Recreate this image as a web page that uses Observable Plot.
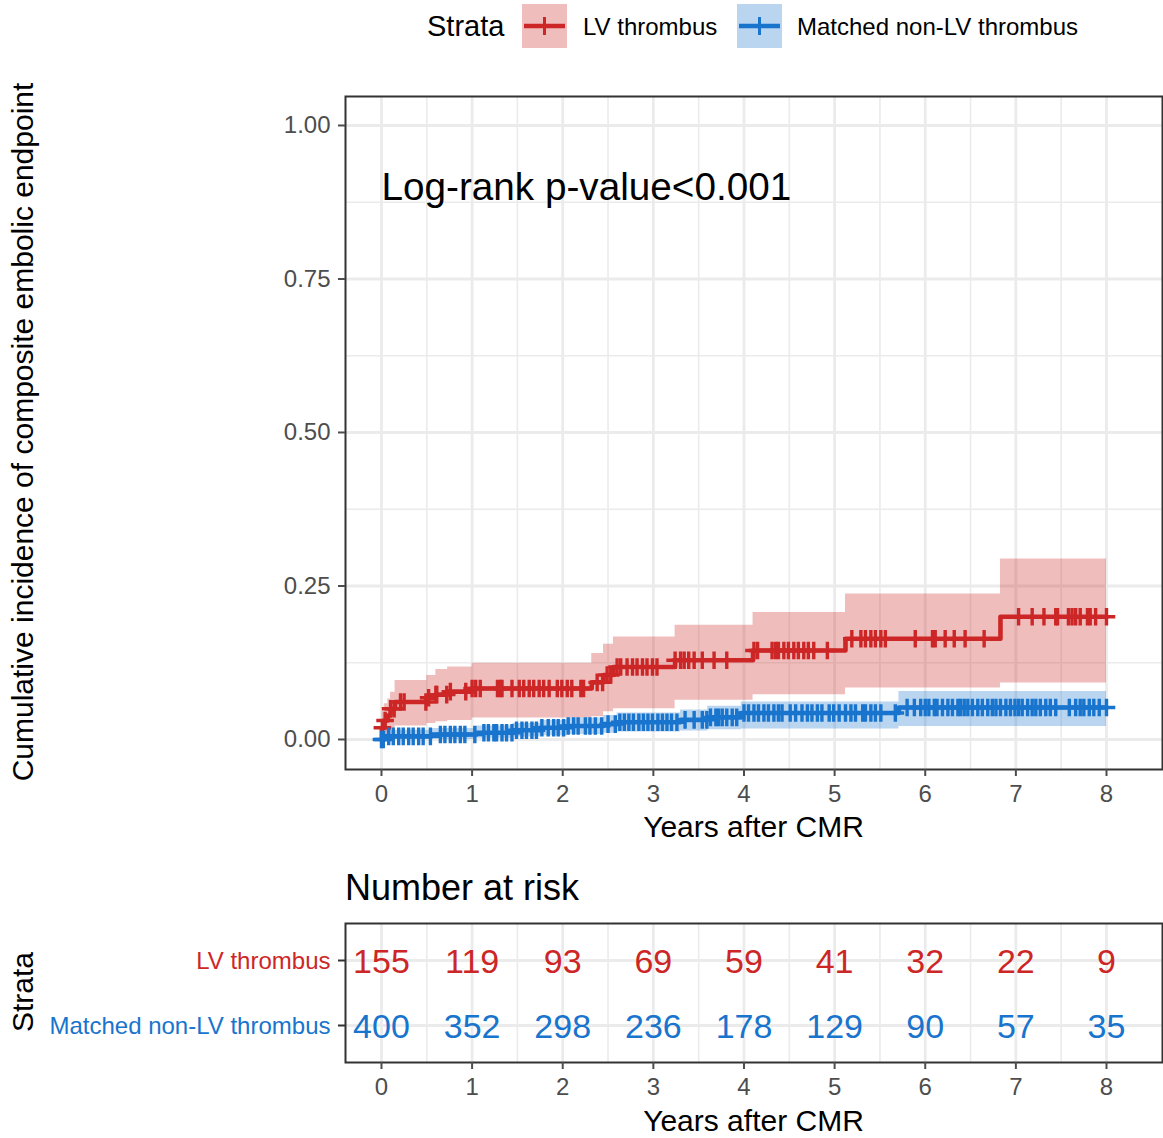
<!DOCTYPE html>
<html>
<head>
<meta charset="utf-8">
<script src="https://cdn.jsdelivr.net/npm/d3@7"></script>
<script src="https://cdn.jsdelivr.net/npm/@observablehq/plot@0.6"></script>
<style>
  html, body { margin: 0; padding: 0; background: #fff; overflow: hidden; }
  #wrap { position: relative; width: 1163px; height: 1138px; font-family: "Liberation Sans", Arial, Helvetica, sans-serif; }
  #main, #risk, #overlay { position: absolute; left: 0; }
  #main { top: 0; }
  #risk { top: 860px; }
  #overlay { top: 0; pointer-events: none; }
</style>
</head>
<body>
<div id="wrap">
  <div id="main"></div>
  <div id="risk"></div>
  <svg id="overlay" width="1163" height="1138"></svg>
</div>
<script>
// ---------------- DATA ----------------
const strata = ["LV thrombus", "Matched non-LV thrombus"];
const strataColors = ["#CD2626", "#1874CD"];
const followUpEnd = 8.0;

// LV thrombus: cumulative incidence step function
const redT   = [0, 0.005, 0.03, 0.07, 0.10, 0.15, 0.50, 0.60, 0.73, 1.00, 2.32, 2.45, 2.56, 3.24, 4.10, 5.12, 6.83];
const redEst = [0, 0.019, 0.031, 0.039, 0.050, 0.061, 0.068, 0.073, 0.078, 0.083, 0.093, 0.105, 0.118, 0.129, 0.145, 0.164, 0.200];
const redLo  = [0, 0.004, 0.008, 0.012, 0.018, 0.022, 0.026, 0.029, 0.031, 0.035, 0.037, 0.045, 0.050, 0.064, 0.073, 0.084, 0.092];
const redHi  = [0, 0.045, 0.058, 0.066, 0.077, 0.096, 0.104, 0.114, 0.118, 0.124, 0.140, 0.155, 0.167, 0.186, 0.207, 0.237, 0.294];
const redCensor = [0.01, 0.04, 0.10, 0.14, 0.21, 0.25, 0.49, 0.52, 0.60, 0.61, 0.72, 0.76, 0.93, 1.00, 1.04, 1.09,
  1.28, 1.31, 1.33, 1.44, 1.52, 1.57, 1.63, 1.68, 1.74, 1.79, 1.85, 1.94, 1.99, 2.05, 2.10, 2.20, 2.23, 2.38, 2.44,
  2.49, 2.53, 2.60, 2.64, 2.71, 2.77, 2.82, 2.88, 2.93, 2.99, 3.04, 3.24, 3.30, 3.34, 3.39, 3.45, 3.54, 3.67, 3.81,
  4.11, 4.15, 4.31, 4.35, 4.38, 4.44, 4.49, 4.55, 4.60, 4.66, 4.71, 4.77, 4.92, 5.19, 5.29, 5.34, 5.40, 5.45, 5.51,
  5.56, 5.89, 6.08, 6.11, 6.22, 6.32, 6.44, 6.65, 7.03, 7.18, 7.31, 7.44, 7.46, 7.58, 7.62, 7.66, 7.71, 7.79, 7.82,
  7.88, 8.00];

// Matched non-LV thrombus
const blueT   = [0, 0.03, 0.55, 1.05, 1.45, 1.75, 2.05, 2.45, 2.60, 3.30, 3.60, 3.97, 5.71];
const blueEst = [0, 0.005, 0.008, 0.011, 0.015, 0.019, 0.022, 0.025, 0.028, 0.032, 0.036, 0.043, 0.052];
const blueLo  = [0, 0, 0, 0.002, 0.004, 0.006, 0.008, 0.010, 0.012, 0.014, 0.016, 0.017, 0.021];
const blueHi  = [0, 0.015, 0.018, 0.022, 0.026, 0.031, 0.035, 0.039, 0.043, 0.048, 0.054, 0.061, 0.078];
const blueCensor = [0.00, 0.02, 0.08, 0.13, 0.19, 0.24, 0.30, 0.35, 0.41, 0.46, 0.54, 0.65, 0.70, 0.76, 0.81, 0.87,
  0.92, 1.03, 1.13, 1.18, 1.24, 1.27, 1.33, 1.38, 1.44, 1.49, 1.55, 1.60, 1.66, 1.71, 1.77, 1.84, 1.90, 1.95, 2.01,
  2.06, 2.12, 2.17, 2.25, 2.30, 2.36, 2.43, 2.50, 2.58, 2.63, 2.68, 2.73, 2.78, 2.84, 2.89, 2.94, 2.99, 3.05, 3.10,
  3.15, 3.20, 3.26, 3.35, 3.45, 3.54, 3.59, 3.63, 3.69, 3.72, 3.76, 3.81, 3.87, 3.92, 4.00, 4.05, 4.11, 4.16, 4.22,
  4.27, 4.33, 4.38, 4.42, 4.51, 4.57, 4.64, 4.70, 4.75, 4.81, 4.86, 4.94, 4.99, 5.05, 5.12, 5.18, 5.23, 5.31, 5.34,
  5.40, 5.45, 5.51, 5.67, 5.80, 5.88, 5.95, 6.00, 6.04, 6.10, 6.13, 6.19, 6.25, 6.30, 6.36, 6.39, 6.43, 6.47, 6.52,
  6.58, 6.63, 6.69, 6.74, 6.78, 6.83, 6.89, 6.94, 6.99, 7.03, 7.07, 7.13, 7.18, 7.22, 7.27, 7.33, 7.38, 7.44, 7.59,
  7.66, 7.71, 7.75, 7.81, 7.86, 7.92, 8.00];

// Number at risk
const riskTimes = [0, 1, 2, 3, 4, 5, 6, 7, 8];
const lvRisk    = [155, 119, 93, 69, 59, 41, 32, 22, 9];
const nonLvRisk = [400, 352, 298, 236, 178, 129, 90, 57, 35];

const xTicks = [0, 1, 2, 3, 4, 5, 6, 7, 8];
const xMinor = [0.5, 1.5, 2.5, 3.5, 4.5, 5.5, 6.5, 7.5];
const yTicks = [0, 0.25, 0.5, 0.75, 1.0];
const yMinor = [0.125, 0.375, 0.625, 0.875];

// ---------------- BUILD ----------------
const FONT = '"Liberation Sans", Arial, Helvetica, sans-serif';
const xDomain = [-0.397, 8.618];

function curve(T, E, L, H, name) {
  const pts = T.map((t, i) => ({t, est: E[i], lo: L[i], hi: H[i], strata: name}));
  const last = pts[pts.length - 1];
  pts.push({...last, t: followUpEnd});
  return pts;
}
function stepAt(T, V, t) {
  let v = V[0];
  for (let i = 0; i < T.length; i++) if (T[i] <= t) v = V[i];
  return v;
}
const redCurve = curve(redT, redEst, redLo, redHi, strata[0]);
const blueCurve = curve(blueT, blueEst, blueLo, blueHi, strata[1]);
const redCens = redCensor.map(t => ({t, est: stepAt(redT, redEst, t)}));
const blueCens = blueCensor.map(t => ({t, est: stepAt(blueT, blueEst, t)}));

const plusSym = {
  draw(ctx, size) {
    const r = Math.sqrt(size / Math.PI);
    ctx.moveTo(-r, 0); ctx.lineTo(r, 0);
    ctx.moveTo(0, -r); ctx.lineTo(0, r);
  }
};

const gridCol = "#EBEBEB";
const mainPlot = Plot.plot({
  width: 1163, height: 860,
  marginTop: 96, marginBottom: 91, marginLeft: 345, marginRight: 1,
  style: {fontFamily: FONT, background: "transparent", overflow: "visible"},
  x: {domain: xDomain},
  y: {domain: [-0.0489, 1.0472]},
  marks: [
    Plot.gridX(xMinor, {stroke: gridCol, strokeOpacity: 1, strokeWidth: 1.6}),
    Plot.gridY(yMinor, {stroke: gridCol, strokeOpacity: 1, strokeWidth: 1.6}),
    Plot.gridX(xTicks, {stroke: gridCol, strokeOpacity: 1, strokeWidth: 2.8}),
    Plot.gridY(yTicks, {stroke: gridCol, strokeOpacity: 1, strokeWidth: 2.8}),
    Plot.areaY(redCurve, {x: "t", y1: "lo", y2: "hi", curve: "step-after", fill: strataColors[0], fillOpacity: 0.3}),
    Plot.areaY(blueCurve, {x: "t", y1: "lo", y2: "hi", curve: "step-after", fill: strataColors[1], fillOpacity: 0.3}),
    Plot.line(redCurve, {x: "t", y: "est", curve: "step-after", stroke: strataColors[0], strokeWidth: 4.6}),
    Plot.line(blueCurve, {x: "t", y: "est", curve: "step-after", stroke: strataColors[1], strokeWidth: 4.6}),
    Plot.dot(redCens, {x: "t", y: "est", symbol: plusSym, r: 8.8, stroke: strataColors[0], fill: "none", strokeWidth: 3.4}),
    Plot.dot(blueCens, {x: "t", y: "est", symbol: plusSym, r: 8.8, stroke: strataColors[1], fill: "none", strokeWidth: 3.4}),
    Plot.text(["Log-rank p-value<0.001"], {x: () => 0, y: () => 0.9, text: d => d, textAnchor: "start", fontSize: 38.7, fill: "#000", dy: 1}),
    Plot.frame({stroke: "#333333", strokeWidth: 2}),
    Plot.axisX({ticks: xTicks, tickSize: 7, tickPadding: 8, fontSize: 24, color: "#4D4D4D", strokeWidth: 2, label: null}),
    Plot.axisY({ticks: yTicks, tickSize: 7, tickPadding: 8, fontSize: 24, color: "#4D4D4D", strokeWidth: 2, label: null, tickFormat: d3.format(".2f")})
  ]
});
document.getElementById("main").appendChild(mainPlot);

const riskRows = [];
riskTimes.forEach((t, i) => {
  riskRows.push({t, strata: strata[0], n: lvRisk[i]});
  riskRows.push({t, strata: strata[1], n: nonLvRisk[i]});
});

const riskPlot = Plot.plot({
  width: 1163, height: 278,
  marginTop: 63, marginBottom: 76, marginLeft: 345, marginRight: 1,
  style: {fontFamily: FONT, background: "transparent", overflow: "visible"},
  x: {domain: xDomain},
  y: {type: "point", domain: strata, padding: 0.569},
  color: {domain: strata, range: strataColors},
  marks: [
    Plot.gridX(xMinor, {stroke: gridCol, strokeOpacity: 1, strokeWidth: 1.6}),
    Plot.gridX(xTicks, {stroke: gridCol, strokeOpacity: 1, strokeWidth: 2.8}),
    Plot.gridY(strata, {stroke: gridCol, strokeOpacity: 1, strokeWidth: 2.8}),
    Plot.text(riskRows, {x: "t", y: "strata", text: d => String(d.n), fill: "strata", fontSize: 34, dy: 2}),
    Plot.text(strata, {x: () => xDomain[0], y: d => d, text: d => d, dx: -15, dy: 1, textAnchor: "end", fontSize: 24, fill: d => d}),
    Plot.frame({stroke: "#333333", strokeWidth: 2}),
    Plot.axisX({ticks: xTicks, tickSize: 7, tickPadding: 8, fontSize: 24, color: "#4D4D4D", strokeWidth: 2, label: null}),
    Plot.axisY({ticks: strata, tickSize: 7, tickPadding: 8, fontSize: 24, color: "#333333", strokeWidth: 2, label: null, tickFormat: () => ""})
  ]
});
document.getElementById("risk").appendChild(riskPlot);

// ---------------- TITLES & LEGEND ----------------
const ov = d3.select("#overlay").style("font-family", FONT);
function txt(x, y, s, size, opts = {}) {
  const t = ov.append("text").attr("x", x).attr("y", y).attr("font-size", size)
    .attr("dominant-baseline", "central").attr("fill", opts.fill || "#000")
    .attr("text-anchor", opts.anchor || "start").text(s);
  if (opts.rotate) t.attr("transform", `rotate(-90 ${x} ${y})`);
  return t;
}
// legend
txt(427, 26, "Strata", 29);
const keys = [{x: 522, label: strata[0], lx: 583, c: strataColors[0]}, {x: 737, label: strata[1], lx: 797, c: strataColors[1]}];
keys.forEach(k => {
  ov.append("rect").attr("x", k.x).attr("y", 4).attr("width", 45).attr("height", 44).attr("fill", k.c).attr("fill-opacity", 0.3);
  ov.append("line").attr("x1", k.x + 2).attr("x2", k.x + 43).attr("y1", 26).attr("y2", 26).attr("stroke", k.c).attr("stroke-width", 4.5);
  ov.append("line").attr("x1", k.x + 22.5).attr("x2", k.x + 22.5).attr("y1", 17).attr("y2", 35).attr("stroke", k.c).attr("stroke-width", 3);
  txt(k.lx, 26, k.label, 24);
});
// axis titles
txt(22, 432, "Cumulative incidence of composite embolic endpoint", 30, {anchor: "middle", rotate: true});
txt(753.5, 826, "Years after CMR", 30, {anchor: "middle"});
txt(345, 887, "Number at risk", 36);
txt(22, 992, "Strata", 30, {anchor: "middle", rotate: true});
txt(753.5, 1120, "Years after CMR", 30, {anchor: "middle"});
</script>
</body>
</html>
